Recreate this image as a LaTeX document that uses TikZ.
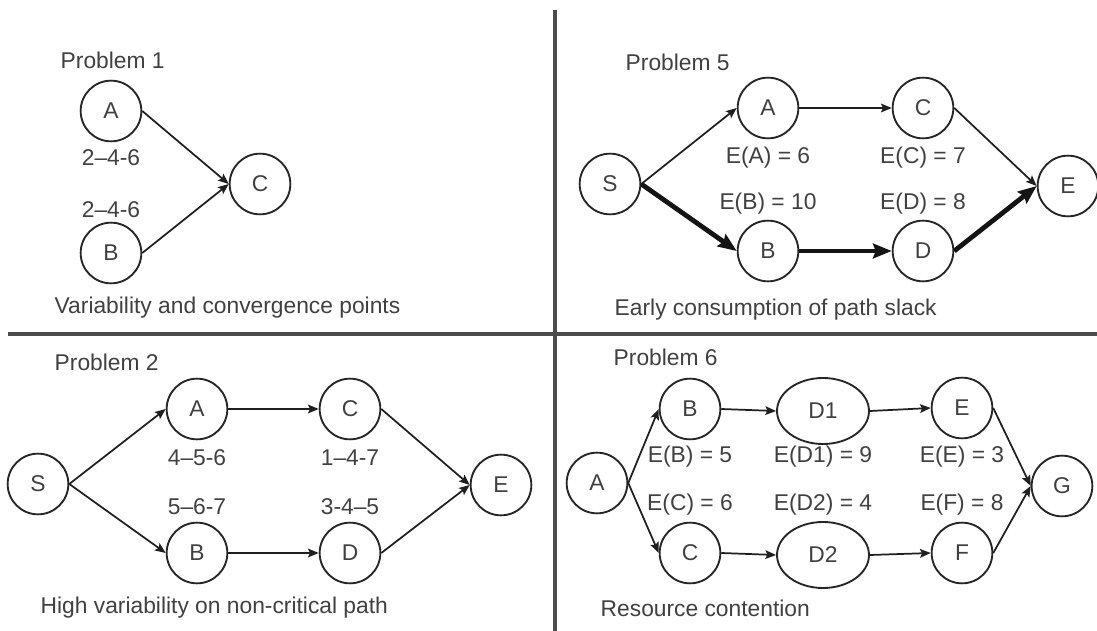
\documentclass[tikz,border=0pt]{standalone}
\usepackage{fontspec}
\setmainfont{Liberation Sans}
\usetikzlibrary{arrows.meta,shapes.geometric}
\begin{document}
\begin{tikzpicture}[x=0.75pt,y=-0.75pt,
  every node/.style={font=\fontsize{17.1}{20}\selectfont, text=black!75},
  event/.style={circle, draw=black!85, line width=1.4pt, minimum size=45.5pt, inner sep=0pt},
  wideevent/.style={ellipse, draw=black!85, line width=1.4pt, minimum width=69pt, minimum height=49.5pt, inner sep=0pt},
  link/.style={draw=black!88, line width=1.3pt, -{Stealth[length=8pt,width=6.5pt,inset=1.5pt]}},
  heavy/.style={draw=black!92, line width=3.6pt, -{Stealth[length=14pt,width=11pt,inset=2pt]}},
  heading/.style={anchor=west},
  caption/.style={anchor=west},
  divider/.style={draw=black!70, line width=2.4pt}]
\useasboundingbox (0,0) rectangle (1097,631);

% quadrant dividers
\coordinate (vtop) at (555,10);
\coordinate (vbot) at (555,631);
\coordinate (hleft) at (8,334);
\coordinate (hright) at (1097,334);
\draw[divider] (vtop) -- (vbot);
\draw[divider] (hleft) -- (hright);

% ---- Problem 1 ----
\node[heading] (p1) at (56,60) {Problem 1};
\node[event] (p1a) at (111,111) {A};
\node[event] (p1b) at (111,253) {B};
\node[event] (p1c) at (260,184) {C};
\node (p1la) at (111,158) {2–4-6};
\node (p1lb) at (111,210) {2–4-6};
\draw[link] (p1a.east) -- (p1c.west);
\draw[link] (p1b.east) -- (p1c.west);
\node[caption] (p1cap) at (50,308) {Variability and convergence points};

% ---- Problem 5 ----
\node[heading] (p5) at (621,62) {Problem 5};
\node[event] (p5s) at (610,184) {S};
\node[event] (p5a) at (768,108) {A};
\node[event] (p5c) at (923,108) {C};
\node[event] (p5b) at (768,251) {B};
\node[event] (p5d) at (923,251) {D};
\node[event] (p5e) at (1068,186) {E};
\node (p5la) at (768,158) {E(A) = 6};
\node (p5lc) at (923,158) {E(C) = 7};
\node (p5lb) at (768,204) {E(B) = 10};
\node (p5ld) at (923,204) {E(D) = 8};
\draw[link] (p5s.east) -- (p5a.west);
\draw[link] (p5a.east) -- (p5c.west);
\draw[link] (p5c.east) -- (p5e.west);
\draw[heavy] (p5s.east) -- (p5b.west);
\draw[heavy] (p5b.east) -- (p5d.west);
\draw[heavy] (p5d.east) -- (p5e.west);
\node[caption] (p5cap) at (610,310) {Early consumption of path slack};

% ---- Problem 2 ----
\node[heading] (p2) at (50,362) {Problem 2};
\node[event] (p2s) at (38,484) {S};
\node[event] (p2a) at (197,409) {A};
\node[event] (p2c) at (350,409) {C};
\node[event] (p2b) at (197,553) {B};
\node[event] (p2d) at (350,553) {D};
\node[event] (p2e) at (501,485) {E};
\node (p2la) at (197,458) {4–5-6};
\node (p2lc) at (350,458) {1–4-7};
\node (p2lb) at (197,507) {5–6-7};
\node (p2ld) at (350,507) {3-4–5};
\draw[link] (p2s.east) -- (p2a.west);
\draw[link] (p2s.east) -- (p2b.west);
\draw[link] (p2a.east) -- (p2c.west);
\draw[link] (p2b.east) -- (p2d.west);
\draw[link] (p2c.east) -- (p2e.west);
\draw[link] (p2d.east) -- (p2e.west);
\node[caption] (p2cap) at (36,608) {High variability on non-critical path};

% ---- Problem 6 ----
\node[heading] (p6) at (609,357) {Problem 6};
\node[event] (p6a) at (597,483) {A};
\node[event] (p6b) at (690,409) {B};
\node[event] (p6c) at (690,553) {C};
\node[wideevent] (p6d1) at (823,411) {D1};
\node[wideevent] (p6d2) at (823,555) {D2};
\node[event] (p6e) at (962,408) {E};
\node[event] (p6f) at (962,553) {F};
\node[event] (p6g) at (1062,486) {G};
\node (p6lb) at (690,457) {E(B) = 5};
\node (p6ld1) at (823,457) {E(D1) = 9};
\node (p6le) at (962,457) {E(E) = 3};
\node (p6lc) at (690,505) {E(C) = 6};
\node (p6ld2) at (823,505) {E(D2) = 4};
\node (p6lf) at (962,505) {E(F) = 8};
\draw[link] (p6a.east) -- (p6b.west);
\draw[link] (p6a.east) -- (p6c.west);
\draw[link] (p6b.east) -- (p6d1.west);
\draw[link] (p6c.east) -- (p6d2.west);
\draw[link] (p6d1.east) -- (p6e.west);
\draw[link] (p6d2.east) -- (p6f.west);
\draw[link] (p6e.east) -- (p6g.west);
\draw[link] (p6f.east) -- (p6g.west);
\node[caption] (p6cap) at (596,608) {Resource contention};
\end{tikzpicture}
\end{document}
